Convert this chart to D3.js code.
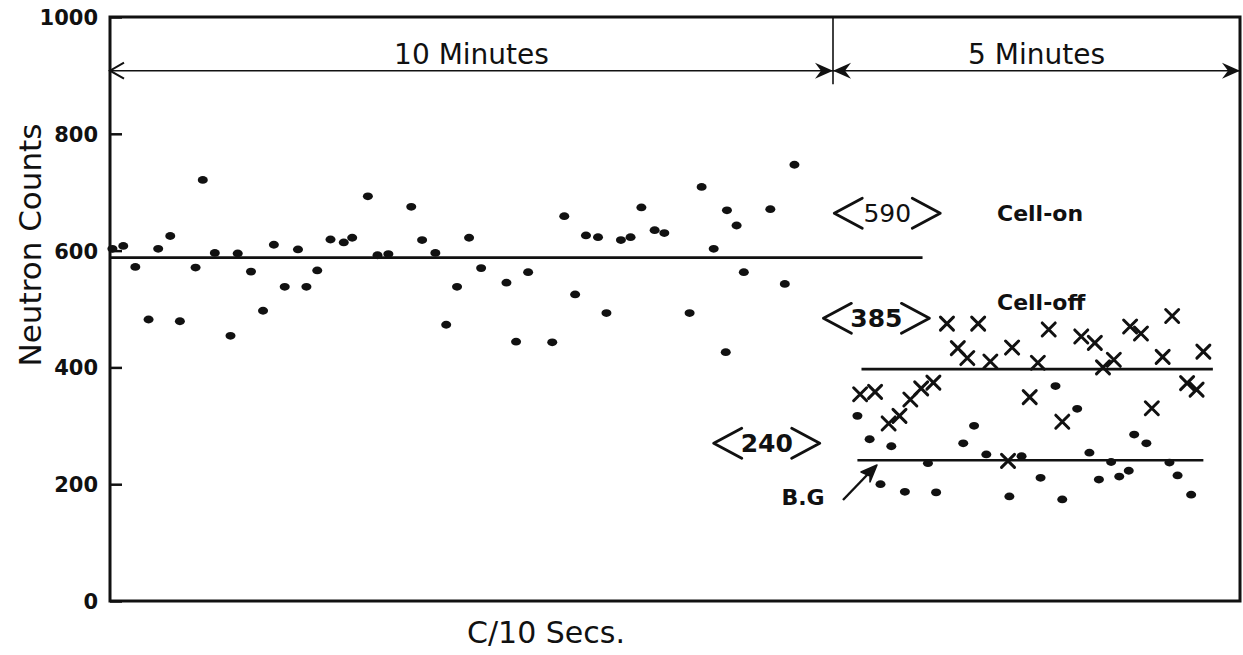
<!DOCTYPE html>
<html>
<head>
<meta charset="utf-8">
<script src="https://d3js.org/d3.v7.min.js"></script>
<style>
  body { margin: 0; background: #fff; }
  svg { display: block; }
  text { font-family: 'DejaVu Sans', sans-serif; fill: #111; }
  .tick text { font-weight: bold; font-size: 21px; }
  .tick line { stroke: #111; stroke-width: 2.5px; }
</style>
</head>
<body>
<script>
// cell-on run (10 minutes), time in seconds, neutron counts per 10 s
const cellOnTime = [2, 11, 21, 32, 40, 50, 58, 71, 77, 87, 100, 106, 117, 127, 136, 145, 156, 163, 172, 183,
  194, 201, 214, 222, 231, 250, 259, 270, 279, 288, 298, 308, 329, 337, 347, 367, 377, 386, 395, 405,
  412, 424, 432, 441, 452, 460, 481, 491, 501, 511, 512, 520, 526, 548, 560, 568];
const cellOnCounts = [603, 608, 572, 482, 603, 625, 479, 571, 721, 596, 454, 595, 564, 497, 610, 538, 602, 538, 566, 619,
  614, 622, 693, 592, 594, 675, 618, 596, 473, 538, 622, 570, 545, 444, 563, 443, 659, 525, 626, 623,
  493, 618, 623, 674, 635, 630, 493, 709, 603, 426, 669, 643, 563, 671, 543, 747];

// cell-off run (5 minutes), crosses
const cellOffTime = [620, 631, 641, 649, 657, 665, 674, 684, 692, 699, 707, 716, 729, 732, 745, 751, 759, 769, 783, 793,
  799, 807, 819, 827, 835, 843, 850, 861, 868, 873];
const cellOffCounts = [354, 358, 304, 317, 345, 364, 374, 475, 433, 416, 475, 410, 240, 434, 349, 408, 465, 307, 453, 442,
  400, 413, 470, 458, 330, 418, 488, 373, 362, 427];

// background (B.G) run, dots
const bgTime = [618, 627, 635, 643, 653, 670, 676, 696, 704, 713, 730, 739, 753, 764, 769, 780, 789, 796, 805, 811,
  818, 822, 831, 848, 854, 864];
const bgCounts = [317, 277, 200, 265, 187, 236, 186, 270, 300, 251, 179, 248, 211, 368, 174, 329, 254, 208, 238, 213,
  223, 285, 270, 237, 215, 182];

// mean levels as drawn
const meanLevel = [588, 397, 241];
const meanStart = [0, 621, 618];
const meanEnd = [666, 880, 873];
const meanLabels = ['590', '385', '240'];
const meanLabelTime = [640, 632, 545];
const meanLabelCount = [664, 484, 270];

const periodLabels = ['10 Minutes', '5 Minutes'];
const periodBounds = [0, 600, 900];
const yTicks = [0, 200, 400, 600, 800, 1000];

const width = 1243, height = 655;
const svg = d3.select('body').append('svg').attr('width', width).attr('height', height);

// the drawing is not to scale: 10 min and 5 min take different widths
const x = d3.scaleLinear().domain(periodBounds).range([110, 833, 1240]);
const y = d3.scaleLinear().domain([0, 1000]).range([601, 17]);

// frame
svg.append('rect')
  .attr('x', x(0)).attr('y', y(1000))
  .attr('width', x(900) - x(0)).attr('height', y(0) - y(1000))
  .attr('fill', 'none').attr('stroke', '#111').attr('stroke-width', 3);

const yAxis = svg.append('g')
  .attr('transform', `translate(${x(0)},0)`)
  .call(d3.axisLeft(y).tickValues(yTicks).tickFormat(d3.format('d')).tickSize(-12).tickPadding(12));
yAxis.select('.domain').remove();
yAxis.selectAll('.tick text').attr('dy', '0.36em');

svg.append('text')
  .attr('transform', `translate(41,245) rotate(-90)`)
  .attr('text-anchor', 'middle')
  .attr('font-size', 31)
  .text('Neutron Counts');

svg.append('text')
  .attr('x', 546).attr('y', 643)
  .attr('text-anchor', 'middle')
  .attr('font-size', 30)
  .text('C/10 Secs.');

// period arrows at the top
const ay = y(908);
svg.append('line')
  .attr('x1', x(0)).attr('x2', x(900)).attr('y1', ay).attr('y2', ay)
  .attr('stroke', '#111').attr('stroke-width', 1.6);
svg.append('line')
  .attr('x1', x(600)).attr('x2', x(600)).attr('y1', y(1000)).attr('y2', y(885))
  .attr('stroke', '#111').attr('stroke-width', 1.6);
svg.append('path')
  .attr('d', `M${x(0) + 14},${ay - 8}L${x(0)},${ay}L${x(0) + 14},${ay + 8}`)
  .attr('fill', 'none').attr('stroke', '#111').attr('stroke-width', 2);

function head(tx, dir) {
  return `M${tx},${ay}L${tx - dir * 18},${ay - 8}L${tx - dir * 12},${ay}L${tx - dir * 18},${ay + 8}Z`;
}
svg.selectAll('path.head')
  .data([[x(600), 1], [x(600), -1], [x(900), 1]])
  .join('path').attr('class', 'head')
  .attr('d', d => head(d[0], d[1]))
  .attr('fill', '#111');

svg.selectAll('text.period')
  .data(periodLabels)
  .join('text').attr('class', 'period')
  .attr('x', (d, i) => x((periodBounds[i] + periodBounds[i + 1]) / 2))
  .attr('y', ay - 7)
  .attr('text-anchor', 'middle')
  .attr('font-size', 28)
  .text(d => d);

// mean lines
svg.selectAll('line.mean')
  .data(meanLevel)
  .join('line').attr('class', 'mean')
  .attr('x1', (d, i) => x(meanStart[i])).attr('x2', (d, i) => x(meanEnd[i]))
  .attr('y1', d => y(d)).attr('y2', d => y(d))
  .attr('stroke', '#111').attr('stroke-width', 2.6);

// <mean> labels with drawn chevrons
meanLabels.forEach((lab, i) => {
  const cx = x(meanLabelTime[i]), cy = y(meanLabelCount[i]);
  const g = svg.append('g');
  g.append('text')
    .attr('x', cx).attr('y', cy).attr('dy', '0.36em')
    .attr('text-anchor', 'middle')
    .attr('font-size', 25)
    .attr('font-weight', i === 0 ? 'normal' : 'bold')
    .text(lab);
  g.append('path')
    .attr('d', `M${cx - 25},${cy - 15}L${cx - 53},${cy}L${cx - 25},${cy + 15}` +
               `M${cx + 25},${cy - 15}L${cx + 53},${cy}L${cx + 25},${cy + 15}`)
    .attr('fill', 'none').attr('stroke', '#111').attr('stroke-width', 2.8)
    .attr('stroke-linecap', 'round').attr('stroke-linejoin', 'round');
});

svg.append('text').attr('x', 997).attr('y', y(664)).attr('dy', '0.36em')
  .attr('font-size', 22).attr('font-weight', 'bold').text('Cell-on');
svg.append('text').attr('x', 997).attr('y', y(511)).attr('dy', '0.36em')
  .attr('font-size', 22).attr('font-weight', 'bold').text('Cell-off');

// B.G pointer
svg.append('text').attr('x', 803).attr('y', y(178)).attr('dy', '0.36em')
  .attr('text-anchor', 'middle')
  .attr('font-size', 22).attr('font-weight', 'bold').text('B.G');
svg.append('line')
  .attr('x1', 843).attr('y1', 500).attr('x2', 868).attr('y2', 474)
  .attr('stroke', '#111').attr('stroke-width', 2.4);
svg.append('path')
  .attr('d', 'M877,465L861,472L870,476L870,482Z')
  .attr('fill', '#111').attr('stroke', '#111').attr('stroke-width', 1.5).attr('stroke-linejoin', 'round');

// dots
const dotData = cellOnTime.map((t, i) => [t, cellOnCounts[i]])
  .concat(bgTime.map((t, i) => [t, bgCounts[i]]));
svg.append('g').selectAll('ellipse')
  .data(dotData)
  .join('ellipse')
  .attr('cx', d => x(d[0])).attr('cy', d => y(d[1]))
  .attr('rx', 5).attr('ry', 3.9)
  .attr('fill', '#111');

// crosses
const s = 6.5;
svg.append('g').selectAll('path')
  .data(cellOffTime.map((t, i) => [t, cellOffCounts[i]]))
  .join('path')
  .attr('d', d => {
    const cx = x(d[0]), cy = y(d[1]);
    return `M${cx - s},${cy - s}L${cx + s},${cy + s}M${cx + s},${cy - s}L${cx - s},${cy + s}`;
  })
  .attr('stroke', '#111').attr('stroke-width', 3).attr('stroke-linecap', 'round');
</script>
</body>
</html>
